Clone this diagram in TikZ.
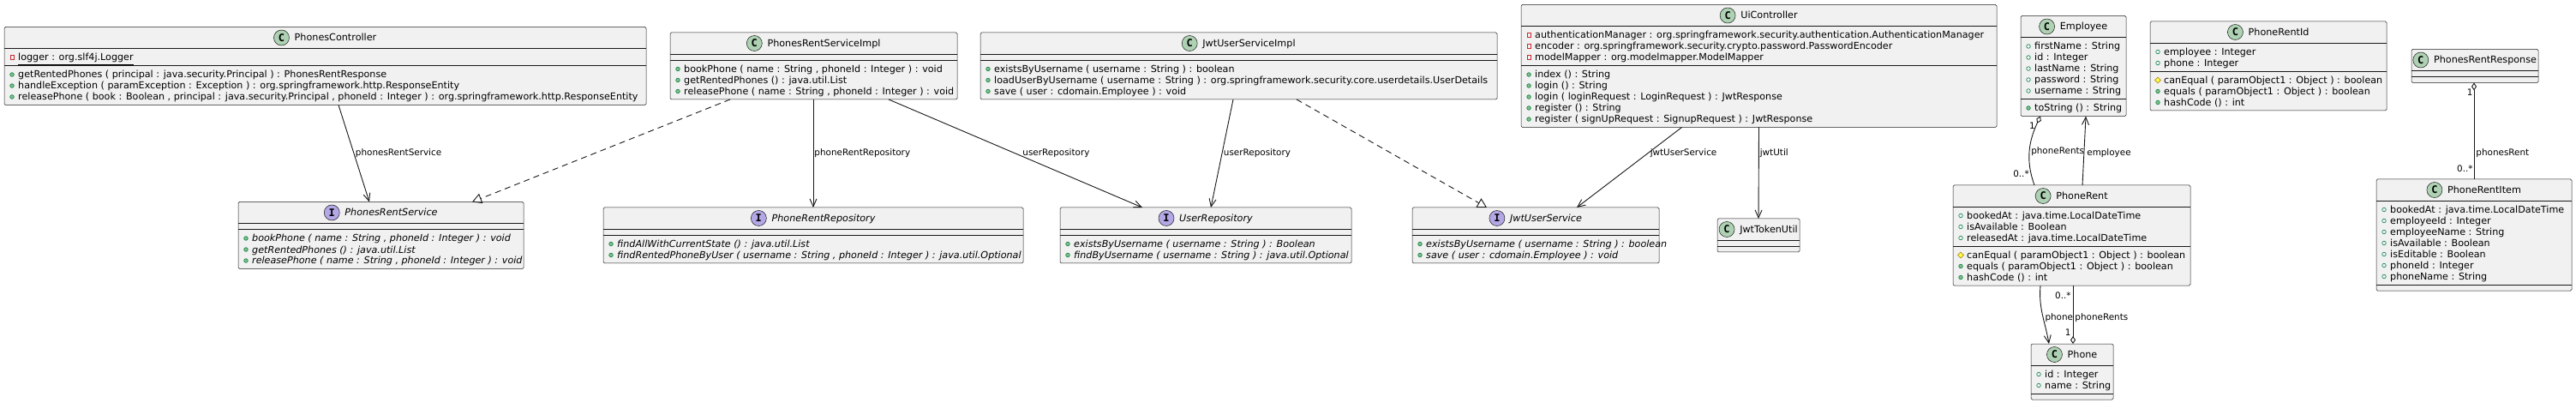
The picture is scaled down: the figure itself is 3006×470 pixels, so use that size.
\documentclass[tikz,border=0pt]{standalone}
\usepackage{fontspec}
\setmainfont{DejaVu Sans}
\newfontfamily\iconfont{DejaVu Sans Mono}
\usetikzlibrary{calc,arrows.meta,shapes.geometric}

\definecolor{boxfill}{HTML}{F1F1F1}
\definecolor{boxborder}{HTML}{181818}
\definecolor{linkcol}{HTML}{181818}
\definecolor{cgreen}{HTML}{ADD1B2}
\definecolor{ipurple}{HTML}{B4A7E5}
\definecolor{publine}{HTML}{038048}
\definecolor{pubfill}{HTML}{84BE84}
\definecolor{privline}{HTML}{C82930}
\definecolor{protline}{HTML}{B38D22}
\definecolor{protfill}{HTML}{FFFF44}

\tikzset{
  classbox/.style={draw=boxborder, fill=boxfill, line width=0.5pt, rounded corners=1.5pt, inner sep=0pt, outer sep=0pt},
  sepline/.style={draw=boxborder, line width=0.5pt},
  titletext/.style={inner sep=0pt, anchor=base, font=\fontsize{11.2}{13}\selectfont},
  member/.style={inner sep=0pt, anchor=base west, font=\fontsize{11.15}{13}\selectfont},
  imember/.style={member, font=\fontsize{11.15}{13}\selectfont\itshape},
  iconC/.style={circle, draw=boxborder, line width=0.5pt, fill=cgreen, minimum size=18pt, inner sep=0pt, font=\iconfont\bfseries\fontsize{12}{12}\selectfont},
  iconI/.style={iconC, fill=ipurple},
  visf/.style={circle, draw=publine, line width=0.6pt, minimum size=4.6pt, inner sep=0pt},
  vism/.style={visf, fill=pubfill},
  visp/.style={rectangle, draw=privline, line width=0.6pt, minimum size=4.4pt, inner sep=0pt},
  vish/.style={diamond, draw=protline, fill=protfill, line width=0.6pt, minimum size=7pt, inner sep=0pt},
  link/.style={draw=linkcol, line width=0.9pt},
  uses/.style={link, -{Straight Barb[length=9pt,width=8pt]}},
  realizes/.style={link, dash pattern=on 7pt off 5pt, -{Triangle[open,length=11pt,width=12pt]}},
  aggr/.style={link, {Diamond[open,length=9pt,width=6pt]}-},
  lbl/.style={inner sep=0pt, anchor=west, font=\fontsize{10.4}{12}\selectfont},
  mult/.style={lbl, anchor=east},
}

% box with its two separators: id, centre x, centre y, width, attribute lines, method lines
\newcommand{\umlbox}[6]{%
  \pgfmathsetmacro\boxh{39+13*(#5+#6)}%
  \pgfmathsetmacro\sepa{#3-\boxh/2+25}%
  \pgfmathsetmacro\sepb{\sepa+13*#5+7}%
  \node[classbox, minimum width=#4pt, minimum height=\boxh pt] (#1) at (#2,-#3) {};
  \coordinate (#1-sa) at (#1.west |- 0,-\sepa);
  \coordinate (#1-sb) at (#1.west |- 0,-\sepb);
  \draw[sepline] (#1-sa) -- (#1-sa -| #1.east);
  \draw[sepline] (#1-sb) -- (#1-sb -| #1.east);
}
% title with its round icon
\newcommand{\umltitle}[3]{%
  \node[titletext] (#1-t) at ([yshift=-16.5]#1.north) {\hspace*{24pt}#3};
  \node[icon#2] (#1-i) at ([xshift=9,yshift=4]#1-t.base west) {#2};
}
% member lines below separator a or b
\newcommand{\umlmembers}[4]{%
  \foreach \k/\t [count=\i] in {#4} {
    \node[vis\k] (#1-#2v\i) at ($(#1-s#2)+(9,{-10.5-13*(\i-1)})$) {};
    \node[#3] (#1-#2t\i) at ($(#1-s#2)+(16,{-14.5-13*(\i-1)})$) {\t};
  }
}

\begin{document}
\begin{tikzpicture}[x=1pt, y=1pt]
    \useasboundingbox (0,0) rectangle (3006,-470);
    \fill[white] (0,0) rectangle (3006,-470);

    % top row
    \umlbox{pc}{379.5}{77}{749}{1}{3}
    \umltitle{pc}{C}{PhonesController}
    \umlmembers{pc}{a}{member}{p/{\underline{logger : org.slf4j.Logger}}}
    \umlmembers{pc}{b}{member}{m/{getRentedPhones ( principal : java.security.Principal ) : PhonesRentResponse},
      m/{handleException ( paramException : Exception ) : org.springframework.http.ResponseEntity},
      m/{releasePhone ( book : Boolean , principal : java.security.Principal , phoneId : Integer ) : org.springframework.http.ResponseEntity}}

    \umlbox{psi}{949.5}{77}{335}{0}{3}
    \umltitle{psi}{C}{PhonesRentServiceImpl}
    \umlmembers{psi}{b}{member}{m/{bookPhone ( name : String , phoneId : Integer ) : void},
      m/{getRentedPhones () : java.util.List},
      m/{releasePhone ( name : String , phoneId : Integer ) : void}}

    \umlbox{jusi}{1445.5}{77}{603}{0}{3}
    \umltitle{jusi}{C}{JwtUserServiceImpl}
    \umlmembers{jusi}{b}{member}{m/{existsByUsername ( username : String ) : boolean},
      m/{loadUserByUsername ( username : String ) : org.springframework.security.core.userdetails.UserDetails},
      m/{save ( user : cdomain.Employee ) : void}}

    \umlbox{uic}{2052.5}{77}{555}{3}{5}
    \umltitle{uic}{C}{UiController}
    \umlmembers{uic}{a}{member}{p/{authenticationManager : org.springframework.security.authentication.AuthenticationManager},
      p/{encoder : org.springframework.security.crypto.password.PasswordEncoder},
      p/{modelMapper : org.modelmapper.ModelMapper}}
    \umlmembers{uic}{b}{member}{m/{index () : String}, m/{login () : String},
      m/{login ( loginRequest : LoginRequest ) : JwtResponse}, m/{register () : String},
      m/{register ( signUpRequest : SignupRequest ) : JwtResponse}}

    \umlbox{emp}{2419.5}{77}{123}{5}{1}
    \umltitle{emp}{C}{Employee}
    \umlmembers{emp}{a}{member}{f/{firstName : String}, f/{id : Integer}, f/{lastName : String},
      f/{password : String}, f/{username : String}}
    \umlmembers{emp}{b}{member}{m/{toString () : String}}

    \umlbox{prid}{2647}{77}{276}{2}{3}
    \umltitle{prid}{C}{PhoneRentId}
    \umlmembers{prid}{a}{member}{f/{employee : Integer}, f/{phone : Integer}}
    \umlmembers{prid}{b}{member}{h/{canEqual ( paramObject1 : Object ) : boolean},
      m/{equals ( paramObject1 : Object ) : boolean}, m/{hashCode () : int}}

    \umlbox{prr}{2888}{77}{148}{0}{0}
    \umltitle{prr}{C}{PhonesRentResponse}

    % middle row
    \umlbox{prs}{444.5}{274.5}{333}{0}{3}
    \umltitle{prs}{I}{\itshape PhonesRentService}
    \umlmembers{prs}{b}{imember}{m/{bookPhone ( name : String , phoneId : Integer ) : void},
      m/{getRentedPhones () : java.util.List},
      m/{releasePhone ( name : String , phoneId : Integer ) : void}}

    \umlbox{prrepo}{949}{274.5}{490}{0}{2}
    \umltitle{prrepo}{I}{\itshape PhoneRentRepository}
    \umlmembers{prrepo}{b}{imember}{m/{findAllWithCurrentState () : java.util.List},
      m/{findRentedPhoneByUser ( username : String , phoneId : Integer ) : java.util.Optional}}

    \umlbox{urepo}{1407}{274.5}{340}{0}{2}
    \umltitle{urepo}{I}{\itshape UserRepository}
    \umlmembers{urepo}{b}{imember}{m/{existsByUsername ( username : String ) : Boolean},
      m/{findByUsername ( username : String ) : java.util.Optional}}

    \umlbox{jus}{1792}{274.5}{288}{0}{2}
    \umltitle{jus}{I}{\itshape JwtUserService}
    \umlmembers{jus}{b}{imember}{m/{existsByUsername ( username : String ) : boolean},
      m/{save ( user : cdomain.Employee ) : void}}

    \umlbox{jtu}{2052}{274.5}{96}{0}{0}
    \umltitle{jtu}{C}{JwtTokenUtil}

    \umlbox{prent}{2417.5}{274.5}{277}{3}{3}
    \umltitle{prent}{C}{PhoneRent}
    \umlmembers{prent}{a}{member}{f/{bookedAt : java.time.LocalDateTime}, f/{isAvailable : Boolean},
      f/{releasedAt : java.time.LocalDateTime}}
    \umlmembers{prent}{b}{member}{h/{canEqual ( paramObject1 : Object ) : boolean},
      m/{equals ( paramObject1 : Object ) : boolean}, m/{hashCode () : int}}

    \umlbox{pri}{2887}{274}{228}{7}{0}
    \umltitle{pri}{C}{PhoneRentItem}
    \umlmembers{pri}{a}{member}{f/{bookedAt : java.time.LocalDateTime}, f/{employeeId : Integer},
      f/{employeeName : String}, f/{isAvailable : Boolean}, f/{isEditable : Boolean},
      f/{phoneId : Integer}, f/{phoneName : String}}

    % bottom
    \umlbox{phone}{2418}{433.5}{96}{2}{0}
    \umltitle{phone}{C}{Phone}
    \umlmembers{phone}{a}{member}{f/{id : Integer}, f/{name : String}}

    % links
    \draw[uses] ([xshift=15.5]pc.south) -- node[lbl, pos=0.5, xshift=1.5] (l-prs) {phonesRentService} ([xshift=-13.5]prs.north);
    \draw[realizes] ([xshift=-97.5]psi.south) -- ([xshift=106.5]prs.north);
    \draw[uses] ([xshift=-0.5]psi.south) -- node[lbl, pos=0.5, xshift=1] (l-prrepo) {phoneRentRepository} (prrepo.north);
    \draw[uses] ([xshift=87.5]psi.south) -- node[lbl, pos=0.5, xshift=8] (l-urepo1) {userRepository} ([xshift=-74]urepo.north);
    \draw[uses] ([xshift=-6.5]jusi.south) -- node[lbl, pos=0.5, xshift=1.5] (l-urepo2) {userRepository} ([xshift=6]urepo.north);
    \draw[realizes] ([xshift=67.5]jusi.south) -- ([xshift=-57]jus.north);
    \draw[uses] ([xshift=-90]uic.south) -- node[lbl, pos=0.32, xshift=2] (l-jus) {jwtUserService} ([xshift=48]jus.north);
    \draw[uses] (uic.south) -- node[lbl, pos=0.28, xshift=1] (l-jtu) {jwtUtil} (jtu.north);

    \draw[aggr] ([xshift=-38.5]emp.south) to[out=245, in=110]
        node[lbl, pos=0.52, xshift=1.5] (l-rents1) {phoneRents}
        node[mult, pos=0.13, xshift=-1] (m-rents1a) {1}
        node[mult, pos=0.85, xshift=-2] (m-rents1b) {0..*} ([xshift=-43.5]prent.north);
    \draw[uses] ([xshift=12.5]prent.north) -- node[lbl, pos=0.47, xshift=3] (l-emp) {employee} ([xshift=14.5]emp.south);
    \draw[uses] ([xshift=-36.5]prent.south) to[out=265, in=100]
        node[lbl, pos=0.55, xshift=2] (l-phone) {phone} ([xshift=-27]phone.north);
    \draw[aggr] ([xshift=1]phone.north) --
        node[lbl, pos=0.45, xshift=2] (l-rents2) {phoneRents}
        node[mult, pos=0.19, xshift=-2] (m-rents2a) {1}
        node[mult, pos=0.83, xshift=-2] (m-rents2b) {0..*} ([xshift=1.5]prent.south);
    \draw[aggr] ([xshift=-1]prr.south) --
        node[lbl, pos=0.73, xshift=2] (l-rent) {phonesRent}
        node[mult, pos=0.1, xshift=-1] (m-renta) {1}
        node[mult, pos=0.89, xshift=-1] (m-rentb) {0..*} (pri.north);
\end{tikzpicture}
\end{document}
